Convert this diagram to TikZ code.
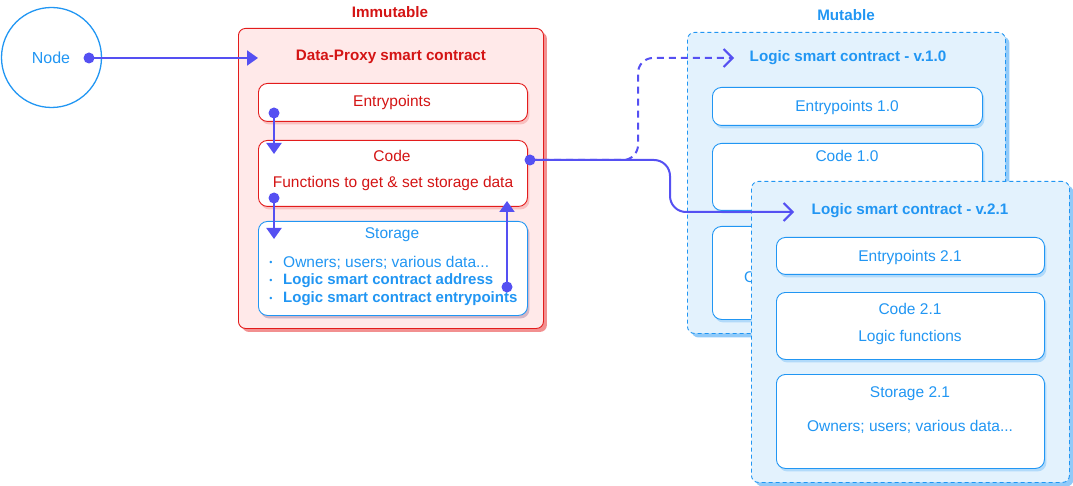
\documentclass[tikz,border=0pt]{standalone}
\usepackage{fontspec}
\setmainfont{Liberation Sans}
\usetikzlibrary{arrows.meta,shadows,calc}
\definecolor{cblue}{HTML}{2196F3}
\definecolor{cred}{HTML}{E31C1C}
\definecolor{ctred}{HTML}{D41414}
\definecolor{cpink}{HTML}{FFE9E9}
\definecolor{cpinksh}{HTML}{F29090}
\definecolor{clblue}{HTML}{E3F2FD}
\definecolor{cbluesh}{HTML}{90CAF9}
\definecolor{carrow}{HTML}{5550F2}
\tikzset{
  redouter/.style={draw=cred, line width=0.9pt, fill=cpink, rounded corners=7pt, anchor=north west, inner sep=0pt,
    drop shadow={shadow xshift=3.5pt, shadow yshift=-3.5pt, fill=cpinksh, opacity=1}},
  redinner/.style={draw=cred, line width=0.9pt, fill=white, rounded corners=9pt, anchor=north west, inner sep=0pt,
    drop shadow={shadow xshift=2pt, shadow yshift=-3pt, fill=cpinksh, opacity=0.45}},
  blueinnerA/.style={draw=cblue, line width=0.9pt, fill=white, rounded corners=9pt, anchor=north west, inner sep=0pt,
    drop shadow={shadow xshift=2pt, shadow yshift=-3pt, fill=cbluesh, opacity=0.6}},
  blueouter/.style={draw=cblue, line width=0.9pt, dash pattern=on 4pt off 3pt, fill=clblue, rounded corners=7pt, anchor=north west, inner sep=0pt,
    drop shadow={shadow xshift=4pt, shadow yshift=-4pt, fill=cbluesh, opacity=1, draw=none}},
  rtext/.style={text=ctred, font=\fontsize{15.5}{17}\selectfont, inner sep=0pt},
  btext/.style={text=cblue, font=\fontsize{15.5}{17}\selectfont, inner sep=0pt},
  ttl/.style={font=\bfseries\fontsize{15.2}{17}\selectfont, inner sep=0pt},
  conn/.style={draw=carrow, line width=2pt},
  dotc/.style={circle, fill=carrow, minimum size=11pt, inner sep=0pt},
  filltip/.style={-{Triangle[length=11pt,width=15pt]}},
  opentip/.style={-{Straight Barb[length=9pt,width=18pt,line width=2pt]}}
}
\begin{document}
\begin{tikzpicture}[x=1pt,y=-1pt]
\useasboundingbox (0,0) rectangle (1073,486);

% Node circle
\node[circle, draw=cblue, line width=1.3pt, minimum size=100pt, inner sep=0pt] (nd) at (51.5,57.5) {};
\node[btext, font=\fontsize{16}{18}\selectfont] (ndt) at (51,57.5) {Node};

% Immutable
\node[ttl, text=ctred] (imm) at (390,12) {Immutable};
\node[redouter, minimum width=305pt, minimum height=300pt] (dp) at (238,28) {};
\node[ttl, text=ctred] (dpt) at (391,57) {Data-Proxy smart contract};

\node[redinner, minimum width=269pt, minimum height=38pt] (ep) at (258,83) {};
\node[rtext] (ept) at (392,102) {Entrypoints};

\node[redinner, minimum width=269pt, minimum height=66pt] (cd) at (258,140) {};
\node[rtext] (cdt) at (392,156) {Code};
\node[rtext] (cdt2) at (393,183) {Functions to get \& set storage data};

\node[blueinnerA, minimum width=269pt, minimum height=94pt, drop shadow={shadow xshift=2pt, shadow yshift=-3pt, fill=cpinksh, opacity=0.45}] (st) at (258,221) {};
\node[btext] (stt) at (392,235) {Storage};
\node[btext, font=\fontsize{9}{10}\selectfont] (b1) at (271,263) {•};
\node[btext, font=\fontsize{9}{10}\selectfont] (b2) at (271,281) {•};
\node[btext, font=\fontsize{9}{10}\selectfont] (b3) at (271,299) {•};
\node[btext, anchor=west] (s1) at (283,263) {Owners; users; various data...};
\node[btext, anchor=west, font=\bfseries\fontsize{15}{17}\selectfont] (s2) at (283,281) {Logic smart contract address};
\node[btext, anchor=west, font=\bfseries\fontsize{15}{17}\selectfont] (s3) at (283,299) {Logic smart contract entrypoints};

% Mutable
\node[ttl, text=cblue] (mut) at (846,15) {Mutable};

% v1.0
\node[blueouter, minimum width=318pt, minimum height=301pt] (v1) at (687,32) {};
\node[ttl, text=cblue] (v1t) at (848,58) {Logic smart contract - v.1.0};
\node[blueinnerA, minimum width=270pt, minimum height=38pt] (ep1) at (712,87) {};
\node[btext] (ep1t) at (847,107) {Entrypoints 1.0};
\node[blueinnerA, minimum width=270pt, minimum height=67pt] (cd1) at (712,143) {};
\node[btext] (cd1t) at (847,156) {Code 1.0};
\node[blueinnerA, minimum width=270pt, minimum height=93pt] (st1) at (712,226) {};
\node[btext] (st1t) at (847,278) {Owners; users; various data...};

% v2.1
\node[blueouter, minimum width=318pt, minimum height=301pt] (v2) at (751,181) {};
\node[ttl, text=cblue] (v2t) at (910,211) {Logic smart contract - v.2.1};
\node[blueinnerA, minimum width=268pt, minimum height=37pt] (ep2) at (776,237) {};
\node[btext] (ep2t) at (910,257) {Entrypoints 2.1};
\node[blueinnerA, minimum width=268pt, minimum height=67pt] (cd2) at (776,292) {};
\node[btext] (cd2t) at (910,309) {Code 2.1};
\node[btext] (cd2t2) at (910,337) {Logic functions};
\node[blueinnerA, minimum width=268pt, minimum height=94pt] (st2) at (776,374) {};
\node[btext] (st2t) at (910,394) {Storage 2.1};
\node[btext] (st2t2) at (910,427) {Owners; users; various data...};

% connector points
\coordinate (pn) at (89,58);
\coordinate (pdp) at (258,58);
\coordinate (pe1) at (274,113);
\coordinate (pc1) at (274,154);
\coordinate (pc2) at (274,198);
\coordinate (ps1) at (274,239);
\coordinate (ps2) at (507,287);
\coordinate (pc3) at (507,201);
\coordinate (pcr) at (530,160);
\coordinate (pv1) at (734,58);
\coordinate (pv2) at (794,212);

% connectors
\draw[conn, filltip] (pn) -- (pdp);
\draw[conn, filltip] (pe1) -- (pc1);
\draw[conn, filltip] (pc2) -- (ps1);
\draw[conn, filltip] (ps2) -- (pc3);
\draw[conn, opentip, dash pattern=on 7pt off 5pt, rounded corners=15pt] (pcr) -- (638,160) -- (638,58) -- (pv1);
\draw[conn, opentip, rounded corners=16pt] (pcr) -- (670,160) -- (670,212) -- (pv2);

\node[dotc] (d1) at (pn) {};
\node[dotc] (d2) at (pe1) {};
\node[dotc] (d3) at (pc2) {};
\node[dotc] (d4) at (ps2) {};
\node[dotc] (d5) at (pcr) {};
\end{tikzpicture}
\end{document}
